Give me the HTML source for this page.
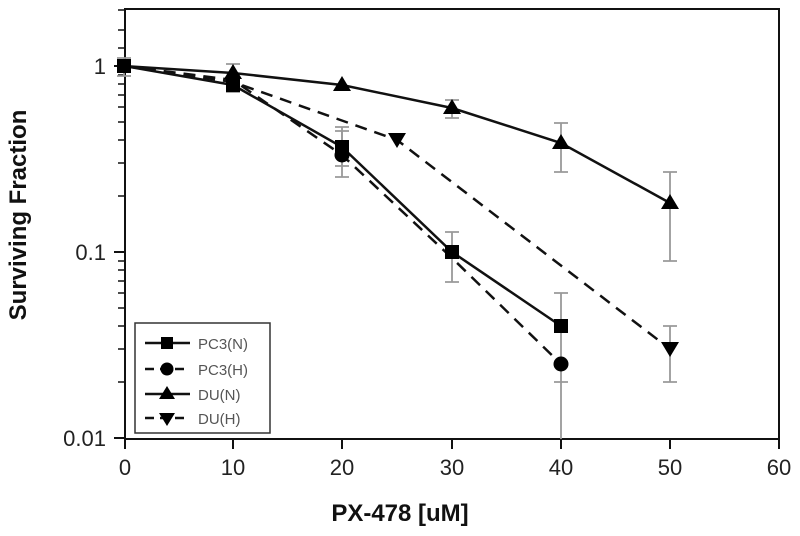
<!DOCTYPE html>
<html><head><meta charset="utf-8"><style>
html,body{margin:0;padding:0;background:#fff}
svg{display:block}
text{font-family:"Liberation Sans",Arial,sans-serif}
</style></head><body>
<svg width="800" height="536" viewBox="0 0 800 536" xmlns="http://www.w3.org/2000/svg">
<rect width="800" height="536" fill="#fff"/>
<rect x="125" y="9" width="654" height="430" fill="none" stroke="#111" stroke-width="2"/>
<g stroke="#111" stroke-width="2">
<line x1="114" y1="66" x2="125" y2="66"/>
<line x1="114" y1="252" x2="125" y2="252"/>
<line x1="114" y1="438" x2="125" y2="438"/>
</g>
<g stroke="#111" stroke-width="1.5">
<line x1="118" y1="10" x2="125" y2="10"/>
<line x1="118" y1="30" x2="125" y2="30"/>
<line x1="118" y1="48" x2="125" y2="48"/>
<line x1="118" y1="75" x2="125" y2="75"/>
<line x1="118" y1="84" x2="125" y2="84"/>
<line x1="118" y1="95" x2="125" y2="95"/>
<line x1="118" y1="107" x2="125" y2="107"/>
<line x1="118" y1="122" x2="125" y2="122"/>
<line x1="118" y1="140" x2="125" y2="140"/>
<line x1="118" y1="163" x2="125" y2="163"/>
<line x1="118" y1="196" x2="125" y2="196"/>
<line x1="118" y1="261" x2="125" y2="261"/>
<line x1="118" y1="270" x2="125" y2="270"/>
<line x1="118" y1="281" x2="125" y2="281"/>
<line x1="118" y1="293" x2="125" y2="293"/>
<line x1="118" y1="308" x2="125" y2="308"/>
<line x1="118" y1="326" x2="125" y2="326"/>
<line x1="118" y1="349" x2="125" y2="349"/>
<line x1="118" y1="382" x2="125" y2="382"/>
</g>
<g stroke="#111" stroke-width="2">
<line x1="125" y1="439" x2="125" y2="449"/>
<line x1="233" y1="439" x2="233" y2="449"/>
<line x1="342" y1="439" x2="342" y2="449"/>
<line x1="452" y1="439" x2="452" y2="449"/>
<line x1="561" y1="439" x2="561" y2="449"/>
<line x1="670" y1="439" x2="670" y2="449"/>
<line x1="779" y1="439" x2="779" y2="449"/>
</g>
<g font-size="22" fill="#222" text-anchor="middle">
<text x="125" y="475">0</text>
<text x="233" y="475">10</text>
<text x="342" y="475">20</text>
<text x="452" y="475">30</text>
<text x="561" y="475">40</text>
<text x="670" y="475">50</text>
<text x="779" y="475">60</text>
</g>
<g font-size="22" fill="#222" text-anchor="end">
<text x="106" y="74">1</text>
<text x="106" y="260">0.1</text>
<text x="106" y="446">0.01</text>
</g>
<text x="400" y="521" font-size="24" font-weight="bold" text-anchor="middle" fill="#111">PX-478 [uM]</text>
<text transform="translate(26,215) rotate(-90)" font-size="24" font-weight="bold" text-anchor="middle" fill="#111">Surviving Fraction</text>

<g stroke="#999" stroke-width="1.8" fill="none">
<path d="M124 58V76M117 58H131M117 76H131"/>
<path d="M233 64V92M226 64H240M226 92H240"/>
<path d="M342 127V177M335 127H349M335 177H349"/>
<path d="M342 131V166M335 131H349M335 166H349"/>
<path d="M452 100V118M445 100H459M445 118H459"/>
<path d="M452 232V282M445 232H459M445 282H459"/>
<path d="M561 123V172M554 123H568M554 172H568"/>
<path d="M561 293V439M554 293H568M554 382H568"/>
<path d="M670 172V261M663 172H677M663 261H677"/>
<path d="M670 326V382M663 326H677M663 382H677"/>
</g>

<g stroke="#111" stroke-width="2.5" fill="none">
<polyline points="124,66 233,85 342,147 452,252 561,326"/>
<polyline points="124,66 233,73 342,85 452,108 561,143 670,203"/>
<polyline points="124,66 233,80 342,155 452,258 561,364" stroke-dasharray="12,8"/>
<polyline points="124,66 233,82 397,140 670,349" stroke-dasharray="12,8"/>
</g>

<g fill="#000">
<rect x="117" y="59" width="14" height="14"/>
<rect x="226" y="78" width="14" height="14"/>
<rect x="335" y="140" width="14" height="14"/>
<rect x="445" y="245" width="14" height="14"/>
<rect x="554" y="319" width="14" height="14"/>
<circle cx="342" cy="155" r="7.5"/>
<circle cx="561" cy="364" r="7.5"/>
<path d="M233 64l9 15h-18z"/>
<path d="M342 76l9 15h-18z"/>
<path d="M452 99l9 15h-18z"/>
<path d="M561 134l9 15h-18z"/>
<path d="M670 194l9 15h-18z"/>
<path d="M397 148l9 -15h-18z"/>
<path d="M670 357l9 -15h-18z"/>
</g>

<rect x="135" y="323" width="135" height="110" fill="#fff" stroke="#333" stroke-width="1.5"/>
<g stroke="#111" stroke-width="2.5">
<line x1="145" y1="343" x2="190" y2="343"/>
<line x1="145" y1="369" x2="190" y2="369" stroke-dasharray="9,6"/>
<line x1="145" y1="394" x2="190" y2="394"/>
<line x1="145" y1="418" x2="190" y2="418" stroke-dasharray="9,6"/>
</g>
<g fill="#000">
<rect x="161" y="337" width="12" height="12"/>
<circle cx="167" cy="369" r="6.5"/>
<path d="M167 386l8 13h-16z"/>
<path d="M167 426l8 -13h-16z"/>
</g>
<g font-size="15" fill="#555">
<text x="198" y="349">PC3(N)</text>
<text x="198" y="375">PC3(H)</text>
<text x="198" y="400">DU(N)</text>
<text x="198" y="424">DU(H)</text>
</g>
</svg>
</body></html>
